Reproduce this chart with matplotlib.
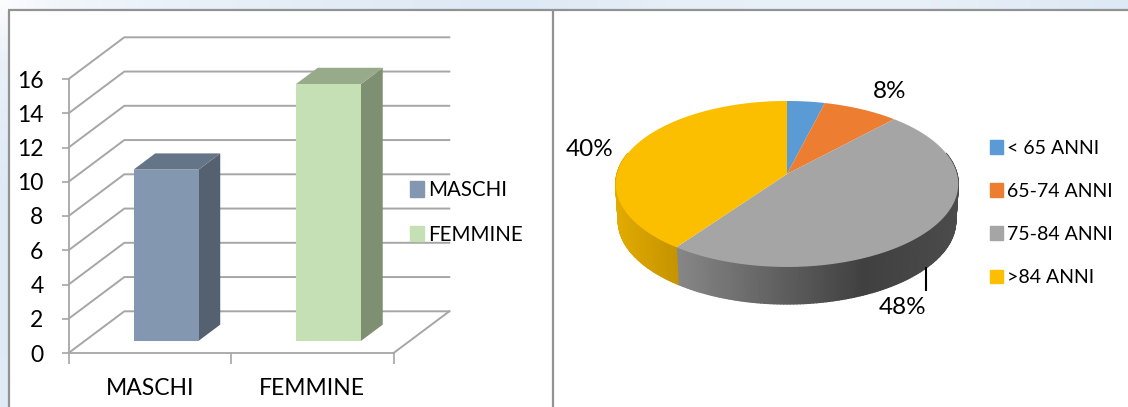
import numpy as np
import matplotlib
matplotlib.use('Agg')
import matplotlib.pyplot as plt
from matplotlib.patches import Patch, Polygon
from matplotlib.collections import PolyCollection
from matplotlib.colors import LinearSegmentedColormap

plt.rcParams['font.family'] = ['Lato', 'DejaVu Sans']

# data
bar_names = ['MASCHI', 'FEMMINE']
bar_values = [10, 15]
bar_ticks = [0, 2, 4, 6, 8, 10, 12, 14, 16]
age_names = ['< 65 ANNI', '65-74 ANNI', '75-84 ANNI', '>84 ANNI']
age_values = [4, 8, 48, 40]
age_labels = ['', '8%', '48%', '40%']

W, H = 1128, 407
fig = plt.figure(figsize=(W / 100, H / 100), dpi=100)

def px_box(x0, y0, x1, y1):
    return [x0 / W, 1 - y1 / H, (x1 - x0) / W, (y1 - y0) / H]

# page behind the two table cells, pixel coordinates
bg = fig.add_axes([0, 0, 1, 1])
bg.axis('off')
blue = LinearSegmentedColormap.from_list('pg', ['#ffffff', '#e9f0f8', '#dde9f5'])
top_band = np.interp(np.linspace(0, 1, 300), [0, 0.05, 0.45, 0.6, 0.8, 1], [0.1, 0.3, 1, 0.6, 0.5, 1])
side_band = np.interp(np.linspace(0, 1, 100), [0, 0.15, 0.5, 1], [0.1, 0.5, 1, 0.9])
bg.imshow(top_band[None, :], cmap=blue, vmin=0, vmax=1, extent=(0, W, 10, 0), aspect='auto')
bg.imshow(side_band[:, None], cmap=blue, vmin=0, vmax=1, extent=(0, 8, H, 0), aspect='auto')
bg.set_xlim(0, W)
bg.set_ylim(H, 0)
frame = '#929292'
bg.plot([8.5, 8.5], [H, 10], color=frame, lw=1.6, solid_capstyle='butt')
bg.plot([8, W], [10, 10], color=frame, lw=1.6, solid_capstyle='butt')
bg.plot([553, 553], [10, H], color=frame, lw=1.6, solid_capstyle='butt')

# ---- 3D bars ----
ax = fig.add_axes(px_box(68.6, 79, 393.6, 353))
ax.patch.set_alpha(0)
ax.set_xlim(0, 2)
ax.set_ylim(0, 16)
for s in ['top', 'right']:
    ax.spines[s].set_visible(False)
line_col = '#a6a6a6'
for s in ['left', 'bottom']:
    ax.spines[s].set_color(line_col)
    ax.spines[s].set_linewidth(1.3)

# depth of the box, in data units
dx = 55.7 / (325 / 2)
dy = 41.7 / (274 / 16)

for v in bar_ticks:
    ax.plot([0, dx, 2 + dx], [v, v + dy, v + dy], color=line_col, lw=1.4, clip_on=False, zorder=1)
ax.plot([2, 2 + dx], [0, dy], color=line_col, lw=1.4, clip_on=False, zorder=1)

ax.set_yticks(bar_ticks)
ax.tick_params(axis='y', length=5, width=1.2, color=line_col, labelsize=16.5, pad=13, labelcolor='black')
ax.set_xticks([0, 1, 2])
ax.set_xticklabels([])
ax.tick_params(axis='x', which='major', length=8, width=1.2, color=line_col)
ax.set_xticks([0.5, 1.5], minor=True)
ax.set_xticklabels(bar_names, minor=True)
ax.tick_params(axis='x', which='minor', length=0, labelsize=16.5, pad=18, labelcolor='black')

bar_w = 0.4
d0, d1 = 0.29, 0.68
bar_cols = [('#8497b0', '#647588', '#556170'), ('#c5e0b4', '#97ab8a', '#7f8f72')]
for i, val in enumerate(bar_values):
    front, top, side = bar_cols[i]
    c = i + 0.5 + d0 * dx
    y0 = d0 * dy
    xl, xr = c - bar_w / 2, c + bar_w / 2
    ox, oy = (d1 - d0) * dx, (d1 - d0) * dy
    ax.add_patch(Polygon([(xr, y0), (xr + ox, y0 + oy), (xr + ox, y0 + oy + val), (xr, y0 + val)],
                         fc=side, ec='none', zorder=3, clip_on=False))
    ax.add_patch(Polygon([(xl, y0 + val), (xr, y0 + val), (xr + ox, y0 + oy + val), (xl + ox, y0 + oy + val)],
                         fc=top, ec='none', zorder=3, clip_on=False))
    ax.bar(c, val, width=bar_w, bottom=y0, color=front, zorder=4, clip_on=False)

h1 = [Patch(color=bar_cols[i][0], label=bar_names[i]) for i in range(2)]
ax.legend(handles=h1, loc='upper left', bbox_to_anchor=(410 / W, 1 - 180 / H), bbox_transform=fig.transFigure,
          frameon=False, fontsize=14.8, handlelength=0.7, handleheight=0.8, handletextpad=0.18,
          labelspacing=1.2, borderpad=0, borderaxespad=0)

# ---- 3D pie ----
pie = fig.add_axes([0, 0, 1, 1])
pie.patch.set_alpha(0)
pie.axis('off')
pie.set_xlim(0, W)
pie.set_ylim(H, 0)

cx, cy = 787, 174
A, K, C = 170, 81.8, 0.12   # perspective of the disc
thick = 37

def rim(theta, shrink=1.0, drop=0):
    # theta clockwise from the top, degrees
    t = np.radians(theta)
    u, v = np.sin(t), np.cos(t)
    den = 1 + C * v
    return cx + shrink * A * u / den, cy - K * v / den + drop

pie_cols = ['#5b9bd5', '#ed7d31', '#a5a5a5', '#fcbf00']
ends = np.cumsum(age_values) / np.sum(age_values) * 360
starts = np.r_[0, ends[:-1]]

# side wall first, the top face covers what is behind
wall_gray = LinearSegmentedColormap.from_list('wg', ['#868686', '#404040', '#4b4b4b'])
wall_yel = LinearSegmentedColormap.from_list('wy', ['#e2ab00', '#c49300'])
polys, cols = [], []
ts = np.arange(75, 286, 1.0)
for a, b in zip(ts[:-1], ts[1:]):
    xa, ya = rim(a)
    xb, yb = rim(b)
    xa2, ya2 = rim(a, 0.985, thick)
    xb2, yb2 = rim(b, 0.985, thick)
    polys.append([(xa, ya), (xb, yb), (xb2, yb2), (xa2, ya2)])
    m = (a + b) / 2
    xm = rim(m)[0]
    if m < starts[3]:
        cols.append(wall_gray(np.interp(xm, [677, 863, 958], [0, 0.5, 1])))
    else:
        cols.append(wall_yel(np.interp(xm, [615, 677], [0, 1])))
pie.add_collection(PolyCollection(polys, facecolors=cols, edgecolors=cols, linewidths=1.0, zorder=2))

for s, e, col in zip(starts, ends, pie_cols):
    th = np.linspace(s, e, 120)
    xs, ys = rim(th)
    pie.fill(np.r_[cx, xs], np.r_[cy, ys], color=col, lw=0, zorder=3)

pie.plot([926, 926], [267, 291], color='black', lw=1.5, zorder=4, solid_capstyle='butt')
label_pos = [None, (890, 91), (903, 308), (590, 149)]
for txt, pos in zip(age_labels, label_pos):
    if pos:
        pie.text(pos[0], pos[1], txt, fontsize=17.5, ha='center', va='center', color='black', zorder=5)

h2 = [Patch(color=c, label=n) for c, n in zip(pie_cols, age_names)]
pie.legend(handles=h2, loc='upper left', bbox_to_anchor=(990 / W, 1 - 139.5 / H), bbox_transform=fig.transFigure,
           frameon=False, fontsize=14, handlelength=0.65, handleheight=0.7, handletextpad=0.22,
           labelspacing=1.35, borderpad=0, borderaxespad=0)

fig.savefig('out.png', dpi=100)
